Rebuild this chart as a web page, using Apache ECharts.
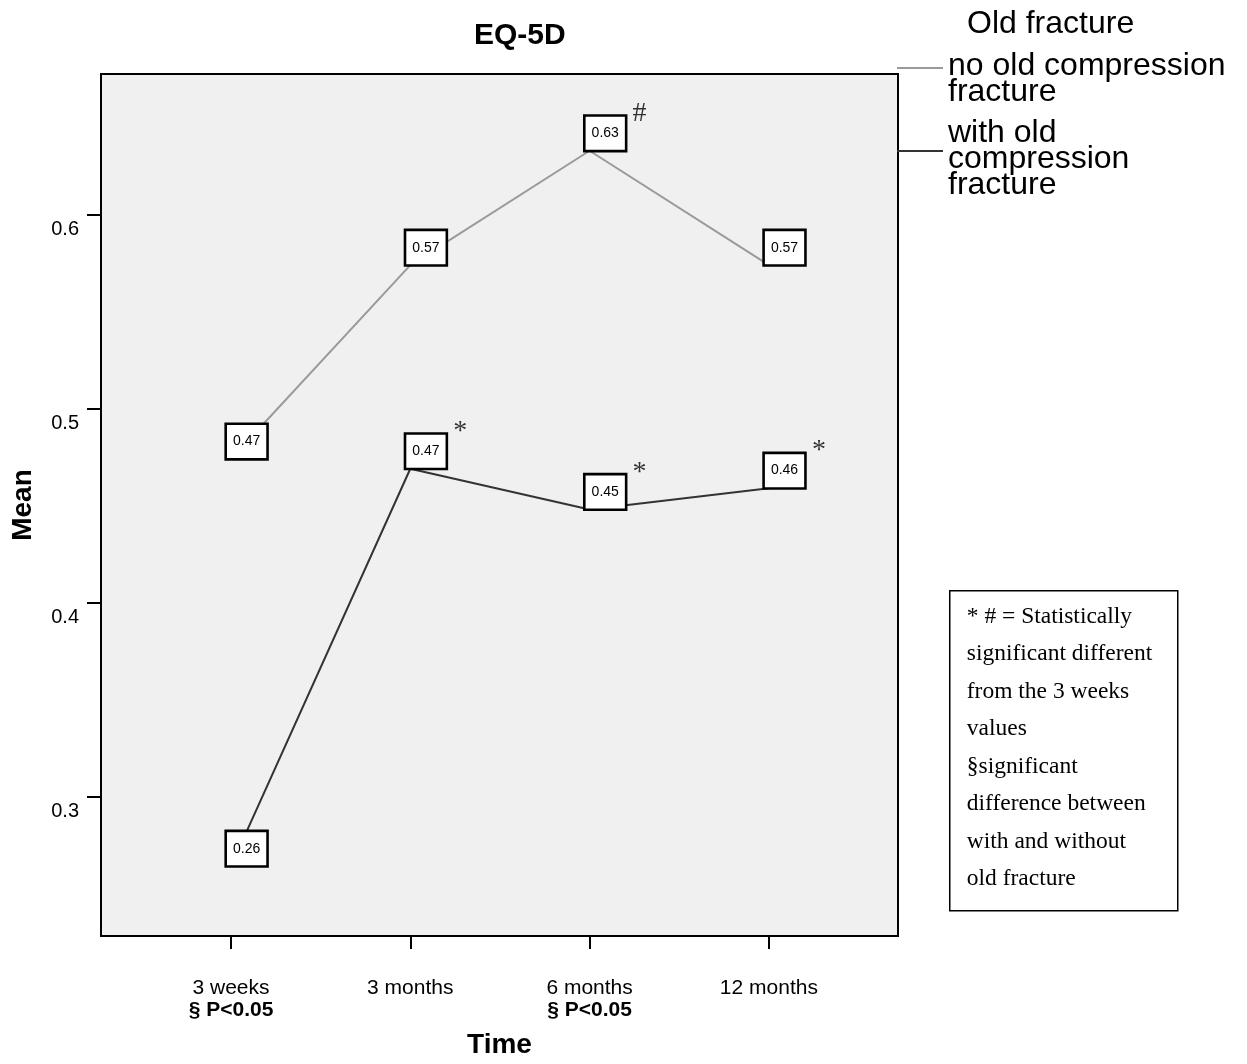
<!DOCTYPE html>
<html>
<head>
<meta charset="utf-8">
<script src="https://cdn.jsdelivr.net/npm/echarts@6/dist/echarts.min.js"></script>
<style>
html,body{margin:0;padding:0;background:#fff;}
#chart{width:1247px;height:1064px;}
</style>
</head>
<body>
<div id="chart"></div>
<script>
// ---- data ----
const categories = ['3 weeks', '3 months', '6 months', '12 months'];
const sigNotes = ['§ P<0.05', '', '§ P<0.05', ''];
const seriesNames = ['no old compression fracture', 'with old compression fracture'];
const legendLines = [['no old compression', 'fracture'], ['with old', 'compression', 'fracture']];
const noOldFracture = [0.474, 0.574, 0.633, 0.574];
const withOldFracture = [0.264, 0.469, 0.448, 0.459];
const noOldMarkers = ['', '', '#', ''];
const withOldMarkers = ['', '*', '*', '*'];
const yTicks = [0.3, 0.4, 0.5, 0.6];
const xTicks = [0, 1, 2, 3];
const noteLines = [
  '* # = Statistically',
  'significant different',
  'from the 3 weeks',
  'values',
  '§significant',
  'difference between',
  'with and without',
  'old fracture'
];

const SANS = "'Liberation Sans', Arial, sans-serif";
const SERIF = "'Liberation Serif', 'Times New Roman', serif";
const GRAY = '#9a9a9a';
const DARK = '#333333';

function pairs(arr) { return arr.map((v, i) => [i, v]); }

const dataLabel = {
  show: true,
  position: [-4, -34],
  formatter: p => p.value[1].toFixed(2),
  fontFamily: SANS,
  fontSize: 14,
  lineHeight: 15,
  color: '#000',
  backgroundColor: '#fff',
  borderColor: '#000',
  borderWidth: 2.6,
  padding: [9, 6, 9, 6]
};

function markerSeries(values, markers) {
  return {
    type: 'scatter',
    data: pairs(values),
    symbolSize: 0,
    silent: true,
    z: 5,
    label: {
      show: true,
      position: [43, -51],
      formatter: p => markers[p.dataIndex],
      fontFamily: SERIF,
      fontSize: 28,
      color: '#000'
    },
    tooltip: { show: false }
  };
}

function legendFor(idx, top, lead) {
  return {
    orient: 'vertical',
    left: 897,
    top: top,
    padding: 0,
    itemWidth: 46,
    itemHeight: 2,
    icon: 'rect',
    selectedMode: false,
    data: [seriesNames[idx]],
    formatter: () => '{s| }\n' + legendLines[idx].map(l => '{t|' + l + '}').join('\n'),
    textStyle: {
      color: '#000',
      rich: {
        s: { fontSize: 2, lineHeight: lead },
        t: { fontFamily: SANS, fontSize: 32, lineHeight: 26, color: '#000' }
      }
    }
  };
}

const chart = echarts.init(document.getElementById('chart'), null, { renderer: 'canvas' });

chart.setOption({
  animation: false,
  backgroundColor: '#fff',
  title: [
    { text: 'EQ-5D', left: 469, top: 16,
      textStyle: { fontFamily: SANS, fontSize: 30, fontWeight: 'bold', color: '#000' } },
    { text: 'Old fracture', left: 962, top: 3,
      textStyle: { fontFamily: SANS, fontSize: 32, fontWeight: 'normal', color: '#000' } }
  ],
  legend: [
    legendFor(0, 41, 22),
    legendFor(1, 111, 17)
  ],
  grid: {
    left: 101, top: 74, right: 349, bottom: 126,
    show: true,
    backgroundColor: '#f0f0f0',
    borderColor: '#000',
    borderWidth: 2
  },
  xAxis: {
    type: 'value',
    min: -0.725,
    max: 3.72,
    name: 'Time',
    nameLocation: 'middle',
    nameGap: 95,
    nameTextStyle: { fontFamily: SANS, fontSize: 28, fontWeight: 'bold', color: '#000', verticalAlign: 'top' },
    splitLine: { show: false },
    axisLine: { show: true, onZero: false, lineStyle: { color: '#000', width: 2 } },
    axisTick: { show: true, length: 13, customValues: xTicks, lineStyle: { color: '#000', width: 2 } },
    axisLabel: {
      customValues: xTicks,
      margin: 41,
      formatter: v => {
        const i = Math.round(v);
        return '{a|' + categories[i] + '}' + (sigNotes[i] ? '\n{b|' + sigNotes[i] + '}' : '');
      },
      rich: {
        a: { fontFamily: SANS, fontSize: 21, lineHeight: 22, color: '#000' },
        b: { fontFamily: SANS, fontSize: 21, lineHeight: 22, fontWeight: 'bold', color: '#000' }
      }
    }
  },
  yAxis: {
    type: 'value',
    min: 0.228,
    max: 0.6726,
    name: 'Mean',
    nameLocation: 'middle',
    nameGap: 64,
    nameTextStyle: { fontFamily: SANS, fontSize: 28, fontWeight: 'bold', color: '#000' },
    splitLine: { show: false },
    axisLine: { show: true, onZero: false, lineStyle: { color: '#000', width: 2 } },
    axisTick: { show: true, length: 14, customValues: yTicks, lineStyle: { color: '#000', width: 2 } },
    axisLabel: {
      customValues: yTicks,
      margin: 22,
      formatter: v => v.toFixed(1),
      fontFamily: SANS,
      fontSize: 20,
      lineHeight: 30,
      verticalAlign: 'top',
      color: '#000'
    }
  },
  series: [
    {
      name: seriesNames[0],
      type: 'line',
      data: pairs(noOldFracture),
      symbol: 'circle',
      symbolSize: 0,
      showSymbol: true,
      color: GRAY,
      lineStyle: { color: GRAY, width: 2 },
      label: dataLabel,
      z: 3
    },
    {
      name: seriesNames[1],
      type: 'line',
      data: pairs(withOldFracture),
      symbol: 'circle',
      symbolSize: 0,
      showSymbol: true,
      color: DARK,
      lineStyle: { color: DARK, width: 2 },
      label: dataLabel,
      z: 3
    },
    markerSeries(noOldFracture, noOldMarkers),
    markerSeries(withOldFracture, withOldMarkers)
  ],
  graphic: [
    {
      type: 'group',
      left: 949,
      top: 590,
      children: [
        { type: 'rect', shape: { x: 0, y: 0, width: 228, height: 320 },
          style: { fill: '#fff', stroke: '#000', lineWidth: 1.5 } },
        { type: 'text', x: 17, y: 7,
          style: { text: noteLines.join('\n'), font: '23.5px ' + SERIF, lineHeight: 37.5, fill: '#000' } }
      ]
    }
  ]
});
</script>
</body>
</html>
